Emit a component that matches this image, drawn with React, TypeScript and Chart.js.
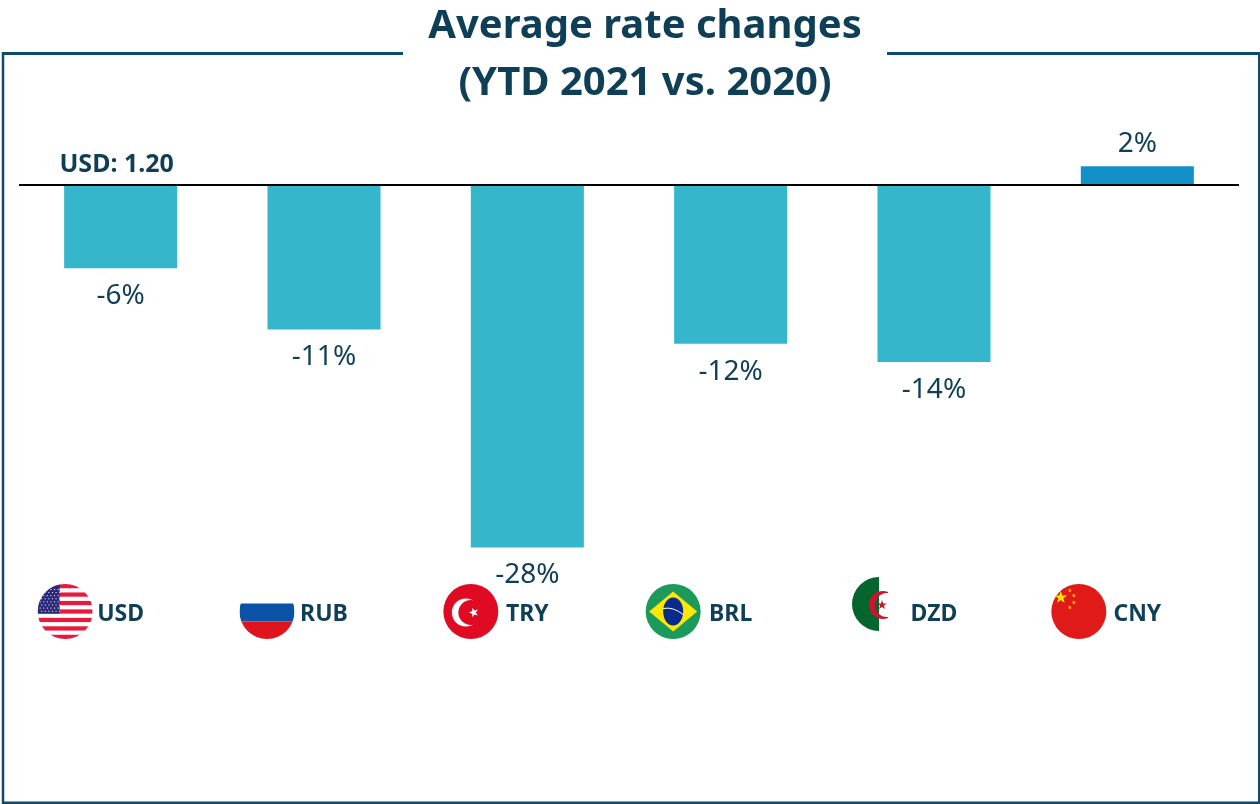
import React, { useEffect, useRef } from "react";
import { Chart, registerables } from "chart.js";

Chart.register(...registerables);

const currencies = ["USD", "RUB", "TRY", "BRL", "DZD", "CNY"];
const rateChanges = [-6.4, -11.1, -27.85, -12.2, -13.6, 1.45];
const valueLabels = ["-6%", "-11%", "-28%", "-12%", "-14%", "2%"];
const titleLines = ["Average rate changes", "(YTD 2021 vs. 2020)"];
const baseRateLabel = "USD: 1.20";

const INK = "#0f3f56";
const FRAME = "#104a6e";
const FONT = '"Noto Sans", "Open Sans", sans-serif';
const flagOffsets: Record<string, number> = { USD: -55.5, RUB: -57, TRY: -56.5, BRL: -57.5, DZD: -55, CNY: -58.5 };

function circle(ctx: CanvasRenderingContext2D, x: number, y: number, r: number) {
  ctx.beginPath();
  ctx.arc(x, y, r, 0, Math.PI * 2);
  ctx.closePath();
}

function star(ctx: CanvasRenderingContext2D, x: number, y: number, r: number, color: string, rot = -Math.PI / 2) {
  ctx.beginPath();
  for (let i = 0; i < 10; i++) {
    const rr = i % 2 ? r * 0.4 : r;
    const a = rot + (i * Math.PI) / 5;
    ctx.lineTo(x + rr * Math.cos(a), y + rr * Math.sin(a));
  }
  ctx.closePath();
  ctx.fillStyle = color;
  ctx.fill();
}

const flags: Record<string, (ctx: CanvasRenderingContext2D, x: number, y: number, r: number) => void> = {
  USD(ctx, x, y, r) {
    circle(ctx, x, y, r);
    ctx.clip();
    ctx.fillStyle = "#ffffff";
    ctx.fillRect(x - r, y - r, 2 * r, 2 * r);
    const h = (2 * r) / 13;
    ctx.fillStyle = "#e8193c";
    for (let i = 0; i < 13; i += 2) ctx.fillRect(x - r, y - r + i * h, 2 * r, h);
    ctx.fillStyle = "#2b2a7c";
    ctx.fillRect(x - r, y - r, r * 0.8, h * 7);
    ctx.fillStyle = "#ffffff";
    for (let row = 0; row < 8; row++) {
      for (let col = 0; col < 6; col++) {
        ctx.fillRect(x - r + 2 + col * 3.6 + (row % 2) * 1.5, y - r + 5 + row * 3.1, 1, 1);
      }
    }
  },
  RUB(ctx, x, y, r) {
    circle(ctx, x, y, r);
    ctx.clip();
    ctx.fillStyle = "#0a52a5";
    ctx.fillRect(x - r, y - 8, 2 * r, 18);
    ctx.fillStyle = "#e0141c";
    ctx.fillRect(x - r, y + 10, 2 * r, r);
  },
  TRY(ctx, x, y, r) {
    circle(ctx, x, y, r);
    ctx.fillStyle = "#e10a23";
    ctx.fill();
    circle(ctx, x - 5, y + 1, 14);
    ctx.fillStyle = "#ffffff";
    ctx.fill();
    circle(ctx, x, y + 1, 12.5);
    ctx.fillStyle = "#e10a23";
    ctx.fill();
    star(ctx, x + 3, y + 1, 5, "#ffffff", Math.PI);
  },
  BRL(ctx, x, y, r) {
    circle(ctx, x, y, r);
    ctx.fillStyle = "#1c9a5b";
    ctx.fill();
    ctx.beginPath();
    ctx.moveTo(x - 24, y);
    ctx.lineTo(x, y - 20);
    ctx.lineTo(x + 24, y);
    ctx.lineTo(x, y + 20);
    ctx.closePath();
    ctx.fillStyle = "#ffe800";
    ctx.fill();
    ctx.beginPath();
    ctx.ellipse(x, y, 10, 14, 0, 0, Math.PI * 2);
    ctx.fillStyle = "#0a2a8c";
    ctx.fill();
    ctx.beginPath();
    ctx.moveTo(x - 10, y - 3);
    ctx.quadraticCurveTo(x, y - 5, x + 10, y + 3);
    ctx.strokeStyle = "#ffffff";
    ctx.lineWidth = 1;
    ctx.stroke();
  },
  DZD(ctx, x, y, r) {
    ctx.beginPath();
    ctx.arc(x, y, r, Math.PI / 2, (3 * Math.PI) / 2);
    ctx.closePath();
    ctx.fillStyle = "#05652f";
    ctx.fill();
    ctx.save();
    ctx.beginPath();
    ctx.rect(x - 20, y - 20, 29, 40);
    ctx.clip();
    circle(ctx, x + 4, y + 1, 14);
    ctx.fillStyle = "#d2102f";
    ctx.fill();
    ctx.save();
    circle(ctx, x + 8, y + 1, 12);
    ctx.clip();
    ctx.fillStyle = "#05652f";
    ctx.fillRect(x - 20, y - 20, 20, 40);
    ctx.fillStyle = "#ffffff";
    ctx.fillRect(x, y - 20, 20, 40);
    ctx.restore();
    star(ctx, x + 3, y + 1, 5, "#d2102f");
    ctx.restore();
  },
  CNY(ctx, x, y, r) {
    circle(ctx, x, y, r);
    ctx.fillStyle = "#e01a19";
    ctx.fill();
    star(ctx, x - 18, y - 14, 6.5, "#ffe800");
    star(ctx, x - 9, y - 21, 2.2, "#ffc800");
    star(ctx, x - 5, y - 16, 2.2, "#ffc800");
    star(ctx, x - 5, y - 9, 2.2, "#ffc800");
    star(ctx, x - 9, y - 4, 2.2, "#ffc800");
  },
};

const decorPlugin = {
  id: "decor",
  afterLayout(chart: any) {
    // The title is centred on the frame's gap, right of the plot's centre.
    chart.titleBlock.left += 32;
  },
  beforeDraw(chart: any) {
    const { ctx, width, height } = chart;
    ctx.save();
    ctx.fillStyle = "#ffffff";
    ctx.fillRect(0, 0, width, height);
    ctx.strokeStyle = FRAME;
    const seg = (w: number, pts: number[][]) => {
      ctx.lineWidth = w;
      ctx.beginPath();
      pts.forEach(([x, y], i) => (i ? ctx.lineTo(x, y) : ctx.moveTo(x, y)));
      ctx.stroke();
    };
    seg(3, [[2, 53.5], [403, 53.5]]);
    seg(3, [[887, 53.5], [1260, 53.5]]);
    seg(2.5, [[3, 52], [3, 804]]);
    seg(2, [[1259, 52], [1259, 804]]);
    seg(2.5, [[2, 802.8], [1260, 802.8]]);
    ctx.restore();
  },
  afterDraw(chart: any) {
    const { ctx, scales } = chart;
    const bars = chart.getDatasetMeta(0).data;
    ctx.save();
    ctx.textAlign = "center";
    ctx.textBaseline = "middle";
    ctx.fillStyle = INK;
    ctx.font = `28px ${FONT}`;
    bars.forEach((bar: any, i: number) => {
      const up = rateChanges[i] > 0;
      ctx.fillText(valueLabels[i], bar.x, bar.y + (up ? -22 : 28));
    });
    ctx.font = `bold 25px ${FONT}`;
    ctx.fillText(baseRateLabel, scales.x.getPixelForValue(0) - 4, scales.y.getPixelForValue(0) - 20.5);
    ctx.restore();

    currencies.forEach((code, i) => {
      const cx = scales.x.getPixelForValue(i);
      const isDzd = code === "DZD";
      ctx.save();
      flags[code](ctx, cx + flagOffsets[code], isDzd ? 604 : 611.5, isDzd ? 27 : 27.5);
      ctx.restore();
    });
  },
};

export default function App() {
  const ref = useRef<HTMLCanvasElement>(null);
  useEffect(() => {
    if (!ref.current) return;
    const chart = new Chart(ref.current, {
      type: "bar",
      data: {
        labels: currencies,
        datasets: [
          {
            data: rateChanges,
            backgroundColor: rateChanges.map((v) => (v > 0 ? "#1490c8" : "#35b6cb")),
            barPercentage: 0.556,
            categoryPercentage: 1,
          },
        ],
      },
      options: {
        responsive: false,
        animation: false,
        layout: { padding: { left: 19, right: 21, top: -2, bottom: 176 } },
        plugins: {
          legend: { display: false },
          tooltip: { enabled: false },
          title: {
            display: true,
            text: titleLines,
            color: INK,
            font: { family: FONT, size: 40, weight: "bold", lineHeight: 1.43 },
            padding: { top: 0, bottom: 8.5 },
          },
        },
        scales: {
          x: {
            grid: { display: false },
            border: { display: false },
            ticks: {
              color: INK,
              padding: 0,
              font: { family: FONT, size: 23, weight: "bold" },
              maxRotation: 0,
            },
          },
          y: {
            min: -31.3,
            max: 4.93,
            border: { display: false },
            ticks: { display: false },
            afterBuildTicks: (axis: any) => {
              axis.ticks = [{ value: 0 }];
            },
            afterFit: (axis: any) => {
              axis.width = 0;
            },
            grid: {
              drawTicks: false,
              color: "#000000",
              lineWidth: 2,
            },
          },
        },
      },
      plugins: [decorPlugin],
    } as any);
    return () => chart.destroy();
  }, []);
  return (
    <canvas
      ref={ref}
      width={1260}
      height={804}
      style={{ position: "absolute", left: 0, top: 0, display: "block" }}
    />
  );
}
